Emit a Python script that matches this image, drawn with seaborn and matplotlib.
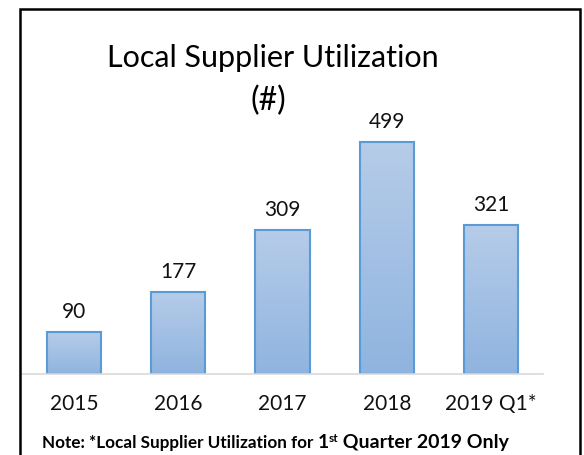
import numpy as np
import pandas as pd
import matplotlib
matplotlib.use("Agg")
import matplotlib.pyplot as plt
from matplotlib.colors import LinearSegmentedColormap
from matplotlib.patches import Rectangle
import seaborn as sns

# chart data
years = ['2015', '2016', '2017', '2018', '2019 Q1*']
counts = [90, 177, 309, 499, 321]

df = pd.DataFrame({'year': years, 'count': counts})

sns.set_theme(style='white')
plt.rcParams['font.family'] = ['Lato', 'DejaVu Sans']

fig = plt.figure(figsize=(5.84, 4.56), dpi=100)
ax = fig.add_axes([22 / 584, 81 / 456, 521 / 584, 279 / 456])

sns.barplot(data=df, x='year', y='count', ax=ax, width=0.52,
            color='#a3c1e5', edgecolor='#5b9bd5', linewidth=1.5,
            saturation=1)

# gradient fill inside each bar
cmap = LinearSegmentedColormap.from_list('g', ['#8fb4df', '#b6cce9'])
grad = np.linspace(0, 1, 256).reshape(-1, 1)
for p in ax.patches:
    x0, y0 = p.get_x(), p.get_y()
    w, h = p.get_width(), p.get_height()
    im = ax.imshow(grad, cmap=cmap, origin='lower', aspect='auto',
                   extent=[x0, x0 + w, y0, y0 + h], zorder=p.get_zorder())
    im.set_clip_path(p)
    p.set_facecolor('none')
    p.set_zorder(p.get_zorder() + 0.1)

ax.set_xlim(-0.5, len(years) - 0.5)
ax.set_ylim(0, 600)
ax.set_xlabel('')
ax.set_ylabel('')
ax.set_yticks([])
ax.tick_params(axis='x', length=0, pad=14, labelsize=15, colors='#111111')
for s in ['top', 'left', 'right']:
    ax.spines[s].set_visible(False)
ax.spines['bottom'].set_color('#d9d9d9')
ax.spines['bottom'].set_linewidth(1.2)

ax.bar_label(ax.containers[0], labels=[str(v) for v in counts],
             padding=8, fontsize=15, color='#111111')

# title
fig.text(273 / 584, 1 - 67 / 456, 'Local Supplier Utilization',
         ha='center', va='baseline', fontsize=22, color='black')
fig.text(268 / 584, 1 - 110 / 456, '(#)',
         ha='center', va='baseline', fontsize=23, color='black')

# note at the bottom, two sizes with a superscript
fig.canvas.draw()
r = fig.canvas.get_renderer()
base_y = 1 - 448 / 456
x = 42 / 584
parts = [('Note: *Local Supplier Utilization for ', 12.3, 0),
         ('1', 14, 0), ('st', 8.5, 6 / 456), (' Quarter 2019 Only', 14, 0)]
for txt, sz, dy in parts:
    t = fig.text(x, base_y + dy, txt, fontsize=sz, fontweight='bold',
                 ha='left', va='baseline', color='black')
    bb = t.get_window_extent(renderer=r)
    x += bb.width / 584

# frame
fig.add_artist(Rectangle((19.5 / 584, -0.05), 560 / 584, 1.05 - 9.5 / 456,
                         transform=fig.transFigure, fill=False,
                         edgecolor='black', linewidth=1.8))

fig.savefig('out.png', dpi=100)
